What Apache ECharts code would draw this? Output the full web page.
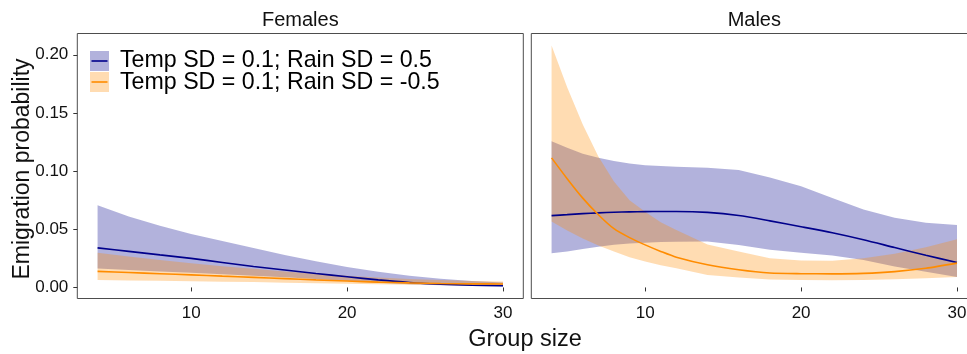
<!DOCTYPE html>
<html>
<head>
<meta charset="utf-8">
<script src="https://cdn.jsdelivr.net/npm/echarts@6/dist/echarts.min.js"></script>
<style>html,body{margin:0;padding:0;background:#fff}#c{width:967px;height:354px}</style>
</head>
<body>
<div id="c"></div>
<script>
// ---- data ----
const panels = ['Females', 'Males'];
const seriesNames = ['Temp SD = 0.1; Rain SD = 0.5', 'Temp SD = 0.1; Rain SD = -0.5'];
const xTicks = [10, 20, 30];
const yTicks = [0, 0.05, 0.10, 0.15, 0.20];

const femX = [4, 6, 8, 10, 12, 14, 16, 18, 20, 22, 24, 26, 28, 30];
const femBlueMid = [0.034, 0.031, 0.028, 0.025, 0.0215, 0.018, 0.015, 0.012, 0.0092, 0.0065, 0.0043, 0.0028, 0.0019, 0.0014];
const femBlueHi  = [0.0706, 0.061, 0.053, 0.046, 0.040, 0.034, 0.028, 0.0225, 0.0175, 0.0135, 0.010, 0.0075, 0.0056, 0.0042];
const femBlueLo  = [0.0163, 0.015, 0.0138, 0.0126, 0.0113, 0.0100, 0.0087, 0.0072, 0.0055, 0.004, 0.0028, 0.0018, 0.0012, 0.0008];
const femOrMid   = [0.0138, 0.0128, 0.0118, 0.0108, 0.0097, 0.0087, 0.0076, 0.0065, 0.0055, 0.0046, 0.0039, 0.0034, 0.0031, 0.0030];
const femOrHi    = [0.0298, 0.0265, 0.0235, 0.0208, 0.0183, 0.016, 0.0138, 0.0118, 0.0100, 0.0085, 0.0072, 0.0063, 0.0056, 0.0051];
const femOrLo    = [0.0063, 0.006, 0.0057, 0.0054, 0.005, 0.0046, 0.0041, 0.0036, 0.0031, 0.0027, 0.0023, 0.002, 0.0017, 0.0015];

const malX = [4, 5, 6, 7, 8, 9, 10, 11, 12, 14, 16, 18, 20, 22, 24, 26, 28, 30];
const malBlueMid = [0.0617, 0.0626, 0.0635, 0.0641, 0.0647, 0.065, 0.0652, 0.0653, 0.0653, 0.0645, 0.0618, 0.0572, 0.0522, 0.047, 0.041, 0.0343, 0.0277, 0.0214];
const malBlueHi  = [0.1257, 0.120, 0.115, 0.1115, 0.1086, 0.1066, 0.1051, 0.1043, 0.1038, 0.1028, 0.101, 0.0946, 0.087, 0.0768, 0.067, 0.060, 0.0556, 0.0537];
const malBlueLo  = [0.0295, 0.031, 0.033, 0.035, 0.0366, 0.0378, 0.0385, 0.039, 0.0393, 0.0395, 0.0365, 0.0323, 0.0298, 0.0275, 0.0235, 0.018, 0.0135, 0.0089];
const malOrMid   = [0.1114, 0.0935, 0.0768, 0.0625, 0.0505, 0.0428, 0.0366, 0.031, 0.026, 0.0195, 0.0152, 0.0124, 0.0118, 0.0117, 0.0121, 0.0136, 0.0165, 0.0209];
const malOrHi    = [0.208, 0.172, 0.140, 0.1125, 0.091, 0.075, 0.065, 0.056, 0.0494, 0.037, 0.031, 0.025, 0.0231, 0.023, 0.025, 0.029, 0.0345, 0.0415];
const malOrLo    = [0.0566, 0.049, 0.042, 0.036, 0.031, 0.026, 0.0223, 0.019, 0.0165, 0.0108, 0.0085, 0.0068, 0.0064, 0.0061, 0.0064, 0.007, 0.008, 0.0089];

// ---- styling ----
const FONT = 'Liberation Sans, Arial, Helvetica, sans-serif';
const NAVY = '#00008B';
const ORANGE = '#FF8C00';
const NAVY_FILL = 'rgba(0,0,139,0.3)';
const ORANGE_FILL = 'rgba(255,140,0,0.3)';

const pair = (xs, ys) => xs.map((x, i) => [x, ys[i]]);

// ribbon drawn through the axes' own scales (api.coord)
function band(idx, xs, hi, lo, fill) {
  return {
    type: 'custom', xAxisIndex: idx, yAxisIndex: idx, silent: true, clip: true, z: 1,
    data: [[xs[0], lo[0]]],
    renderItem: function (params, api) {
      const pts = [];
      for (let i = 0; i < xs.length; i++) pts.push(api.coord([xs[i], hi[i]]));
      for (let i = xs.length - 1; i >= 0; i--) pts.push(api.coord([xs[i], lo[i]]));
      return { type: 'polygon', shape: { points: pts }, style: { fill: fill, stroke: null } };
    }
  };
}
function mid(idx, xs, ys, color, z) {
  return { type: 'line', xAxisIndex: idx, yAxisIndex: idx, data: pair(xs, ys),
    smooth: 0.25, showSymbol: false, silent: true,
    lineStyle: { color: color, width: 1.6 }, z: z };
}

const series = [
  band(0, femX, femBlueHi, femBlueLo, NAVY_FILL),
  band(0, femX, femOrHi, femOrLo, ORANGE_FILL),
  mid(0, femX, femBlueMid, NAVY, 3),
  mid(0, femX, femOrMid, ORANGE, 4),
  band(1, malX, malBlueHi, malBlueLo, NAVY_FILL),
  band(1, malX, malOrHi, malOrLo, ORANGE_FILL),
  mid(1, malX, malBlueMid, NAVY, 3),
  mid(1, malX, malOrMid, ORANGE, 4)
];

const gridTop = 33.5, gridH = 265, gridW = 446;
const grids = [
  { left: 77.3, top: gridTop, width: gridW, height: gridH },
  { left: 531.3, top: gridTop, width: gridW, height: gridH }
].map(g => Object.assign(g, { show: true, borderColor: '#4d4d4d', borderWidth: 1, backgroundColor: 'transparent', containLabel: false, outerBoundsMode: 'none' }));

const xAxes = [0, 1].map(i => ({
  type: 'value', gridIndex: i, min: 2.7, max: 31.3,
  axisLine: { show: false },
  splitLine: { show: false },
  axisTick: { show: true, customValues: xTicks, length: 4, lineStyle: { color: '#333', width: 1 } },
  axisLabel: { customValues: xTicks, margin: 6, fontFamily: FONT, fontSize: 17, color: '#111' }
}));
const yAxes = [0, 1].map(i => ({
  type: 'value', gridIndex: i, min: -0.0095, max: 0.2183,
  axisLine: { show: false },
  splitLine: { show: false },
  axisTick: { show: i === 0, customValues: yTicks, length: 4, lineStyle: { color: '#333', width: 1 } },
  axisLabel: { show: i === 0, customValues: yTicks, margin: 9, fontFamily: FONT, fontSize: 17, color: '#111',
    formatter: v => v.toFixed(2) }
}));

const txt = (x, y, t, size, extra) => Object.assign({
  type: 'text', x: x, y: y, silent: true,
  style: { text: t, fontFamily: FONT, fontSize: size, fill: '#111', align: 'center', verticalAlign: 'middle' }
}, extra || {});

const graphic = [
  txt(300.3, 20, panels[0], 20),
  txt(754.3, 20, panels[1], 20),
  txt(525, 340, 'Group size', 23.5),
  txt(23, 169, 'Emigration probability', 23, { rotation: Math.PI / 2 }),
  // legend
  { type: 'rect', silent: true, z: 10, shape: { x: 90, y: 51, width: 19, height: 20 }, style: { fill: NAVY_FILL } },
  { type: 'line', silent: true, z: 10, shape: { x1: 91.5, y1: 61, x2: 107.5, y2: 61 }, style: { stroke: NAVY, lineWidth: 1.6 } },
  { type: 'rect', silent: true, z: 10, shape: { x: 90, y: 72, width: 19, height: 20 }, style: { fill: ORANGE_FILL } },
  { type: 'line', silent: true, z: 10, shape: { x1: 91.5, y1: 82, x2: 107.5, y2: 82 }, style: { stroke: ORANGE, lineWidth: 1.6 } },
  { type: 'text', silent: true, z: 10, x: 120, y: 61, style: { text: seriesNames[0], fontFamily: FONT, fontSize: 23.2, fill: '#000', align: 'left', verticalAlign: 'middle' } },
  { type: 'text', silent: true, z: 10, x: 120, y: 83, style: { text: seriesNames[1], fontFamily: FONT, fontSize: 23.2, fill: '#000', align: 'left', verticalAlign: 'middle' } }
];

const chart = echarts.init(document.getElementById('c'), null, { renderer: 'canvas' });
chart.setOption({
  animation: false,
  backgroundColor: '#fff',
  grid: grids,
  xAxis: xAxes,
  yAxis: yAxes,
  series: series,
  graphic: graphic
});
</script>
</body>
</html>
